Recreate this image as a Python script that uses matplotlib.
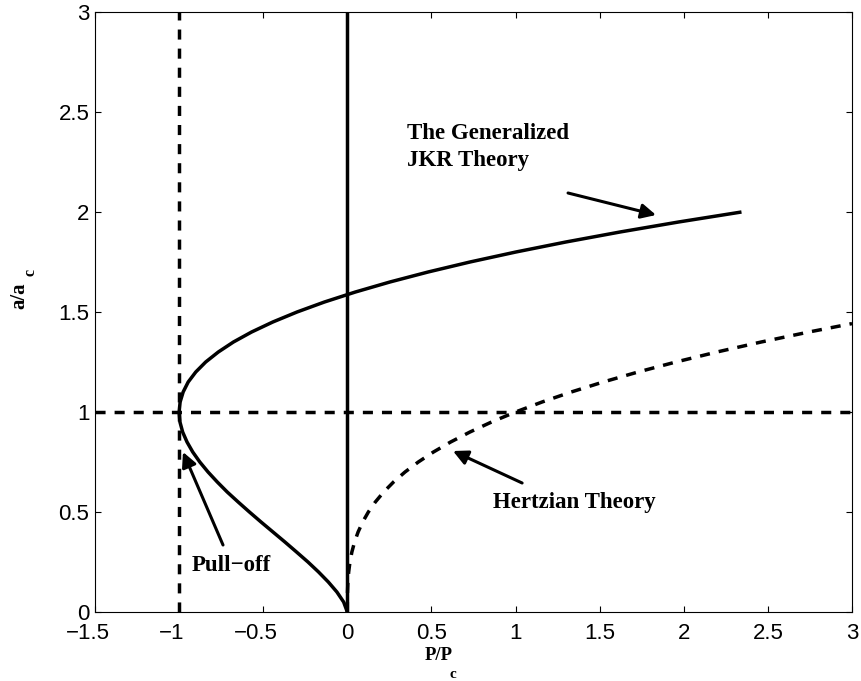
import matplotlib
matplotlib.use('Agg')
import matplotlib.pyplot as plt
import matplotlib.transforms as mtransforms

# ---- data ----
# generalized JKR curve: contact radius a/ac vs load P/Pc
jkr_a = [0, 0.05, 0.10, 0.15, 0.20, 0.25, 0.30, 0.35, 0.40, 0.45, 0.50, 0.55, 0.60,
         0.65, 0.70, 0.75, 0.80, 0.85, 0.90, 0.95, 1.00, 1.05, 1.10, 1.15, 1.20,
         1.25, 1.30, 1.35, 1.40, 1.45, 1.50, 1.55, 1.60, 1.65, 1.70, 1.75, 1.80,
         1.85, 1.90, 1.95, 2.00]
jkr_p = [0, -0.022, -0.062, -0.113, -0.171, -0.234, -0.302, -0.371, -0.442, -0.513,
         -0.582, -0.649, -0.714, -0.773, -0.828, -0.877, -0.919, -0.953, -0.979,
         -0.995, -1.000, -0.994, -0.976, -0.946, -0.901, -0.842, -0.767, -0.677,
         -0.569, -0.443, -0.299, -0.136, 0.048, 0.253, 0.480, 0.729, 1.002, 1.299,
         1.621, 1.969, 2.343]

# Hertzian curve
hertz_a = [0, 0.05, 0.10, 0.15, 0.20, 0.25, 0.30, 0.35, 0.40, 0.45, 0.50, 0.55, 0.60,
           0.65, 0.70, 0.75, 0.80, 0.85, 0.90, 0.95, 1.00, 1.05, 1.10, 1.15, 1.20,
           1.25, 1.30, 1.35, 1.40, 1.442]
hertz_p = [0, 0.0001, 0.001, 0.0034, 0.008, 0.0156, 0.027, 0.0429, 0.064, 0.0911,
           0.125, 0.1664, 0.216, 0.2746, 0.343, 0.4219, 0.512, 0.6141, 0.729, 0.8574,
           1.0, 1.1576, 1.331, 1.5209, 1.728, 1.9531, 2.197, 2.4604, 2.744, 3.0]

pull_off_p = -1.0
unit_a = 1.0

x_ticks = [-1.5, -1, -0.5, 0, 0.5, 1, 1.5, 2, 2.5, 3]
x_ticklabels = ['\u22121.5', '\u22121', '\u22120.5', '0', '0.5', '1', '1.5', '2', '2.5', '3']
y_ticks = [0, 0.5, 1, 1.5, 2, 2.5, 3]
y_ticklabels = ['0', '0.5', '1', '1.5', '2', '2.5', '3']

# ---- figure ----
W, H = 862, 681
fig = plt.figure(figsize=(W / 100, H / 100), dpi=100)
ax = fig.add_axes([95 / W, (H - 612) / H, (852 - 95) / W, (612 - 12) / H])

dash = (0, (2.9, 2.6))
lw = 2.5

ax.plot(jkr_p, jkr_a, color='black', lw=lw, solid_capstyle='butt')
ax.plot(hertz_p, hertz_a, color='black', lw=lw, linestyle=dash)
ax.plot([0, 0], [0, 3], color='black', lw=lw)
ax.plot([pull_off_p, pull_off_p], [0, 3], color='black', lw=lw, linestyle=dash)
ax.plot([-1.5, 3], [unit_a, unit_a], color='black', lw=lw, linestyle=dash)

ax.set_xlim(-1.5, 3)
ax.set_ylim(0, 3)

tick_font = dict(family='Liberation Sans', size=16)
ax.set_xticks(x_ticks)
ax.set_xticklabels(x_ticklabels, fontdict=tick_font)
ax.set_yticks(y_ticks)
ax.set_yticklabels(y_ticklabels, fontdict=tick_font)
ax.tick_params(direction='in', top=True, right=True, length=4.5, width=0.8)
ax.tick_params(axis='x', pad=8)
ax.tick_params(axis='y', pad=4)
for s in ax.spines.values():
    s.set_linewidth(0.8)

# negative labels sit a little left of their ticks in the original
shift = mtransforms.ScaledTranslation(-7 / 100, 0, fig.dpi_scale_trans)
for t in ax.get_xticklabels():
    if t.get_text().startswith('\u2212'):
        t.set_transform(t.get_transform() + shift)

# arrows
arrow = dict(arrowstyle='-|>', color='black', lw=2.2, mutation_scale=22,
             shrinkA=0, shrinkB=0)
ax.annotate('', xy=(1.835, 1.985), xytext=(1.312, 2.095), arrowprops=arrow)
ax.annotate('', xy=(-0.977, 0.80), xytext=(-0.739, 0.335), arrowprops=arrow)
ax.annotate('', xy=(0.628, 0.805), xytext=(1.039, 0.645), arrowprops=arrow)

# annotation texts
txt = dict(family='Liberation Serif', weight='bold', size=16.5, va='baseline', ha='left')
ax.text(0.355, 2.365, 'The Generalized', **txt)
ax.text(0.355, 2.23, 'JKR Theory', **txt)
ax.text(0.866, 0.52, 'Hertzian Theory', **txt)
ax.text(-0.923, 0.205, 'Pull\u2212off', **txt)

# axis labels with subscripts
lab = dict(family='Liberation Serif', weight='bold')
fig.text(439 / W, (H - 660) / H, 'P/P', size=13.5, ha='center', va='baseline', **lab)
fig.text(453 / W, (H - 678) / H, 'c', size=11, ha='center', va='baseline', **lab)
fig.text(24 / W, (H - 296) / H, 'a/a', size=15, ha='center', va='baseline',
         rotation=90, rotation_mode='anchor', **lab)
fig.text(35 / W, (H - 272) / H, 'c', size=11.5, ha='center', va='baseline',
         rotation=90, rotation_mode='anchor', **lab)

plt.savefig('out.png', dpi=100)
plt.close()
